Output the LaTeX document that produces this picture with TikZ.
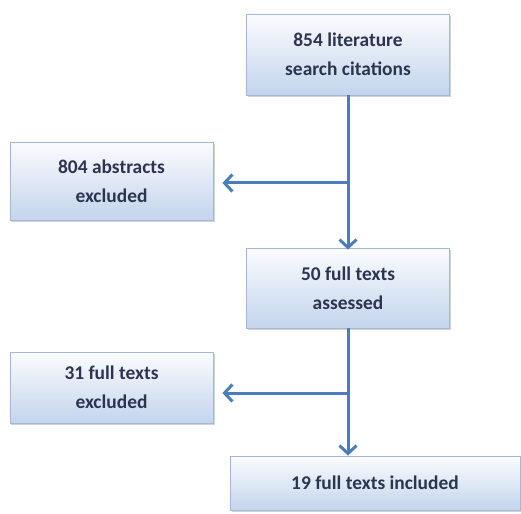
\documentclass[tikz,border=0pt]{standalone}
\usepackage{fontspec}
\setmainfont{Carlito}
\usetikzlibrary{shadows,arrows.meta}
\definecolor{boxtop}{HTML}{FBFCFE}
\definecolor{boxbot}{HTML}{C3D4EC}
\definecolor{boxline}{HTML}{A3B8D6}
\definecolor{txt}{HTML}{2B3550}
\definecolor{arr}{HTML}{4A7EBB}
\tikzset{
  flowbox/.style={draw=boxline, line width=0.8bp, top color=boxtop, bottom color=boxbot,
    drop shadow={shadow xshift=1.5bp, shadow yshift=-2bp, opacity=0.35, fill=gray},
    text=txt, font=\fontsize{19.5}{29}\selectfont\bfseries, align=center, inner sep=0pt},
  flowarrow/.style={draw=arr, line width=3bp, -{Straight Barb[length=8bp, width=17bp, line width=3bp]}}
}
\begin{document}
\begin{tikzpicture}[x=1bp,y=-1bp]
\useasboundingbox (0,0) rectangle (521,514);
\node[flowbox, minimum width=203bp, minimum height=81bp] (a) at (348,54.5) {854 literature\\search citations};
\node[flowbox, minimum width=203bp, minimum height=78bp] (b) at (111.5,181) {804 abstracts\\excluded};
\node[flowbox, minimum width=203bp, minimum height=80bp] (c) at (348,288) {50 full texts\\assessed};
\node[flowbox, minimum width=203bp, minimum height=71bp] (d) at (111.5,387.5) {31 full texts\\excluded};
\node[flowbox, minimum width=290bp, minimum height=54bp] (e) at (375,483) {19 full texts included};
\coordinate (j1) at (348,183);
\coordinate (j2) at (348,393);
\draw[flowarrow] (a.south) -- ([yshift=-2bp]c.north);
\draw[flowarrow] (j1) -- ([xshift=9bp]b.east |- j1);
\draw[flowarrow] (c.south) -- (j2) -- (j2 |- e.north);
\draw[flowarrow] (j2) -- ([xshift=9bp]d.east |- j2);
\end{tikzpicture}
\end{document}
